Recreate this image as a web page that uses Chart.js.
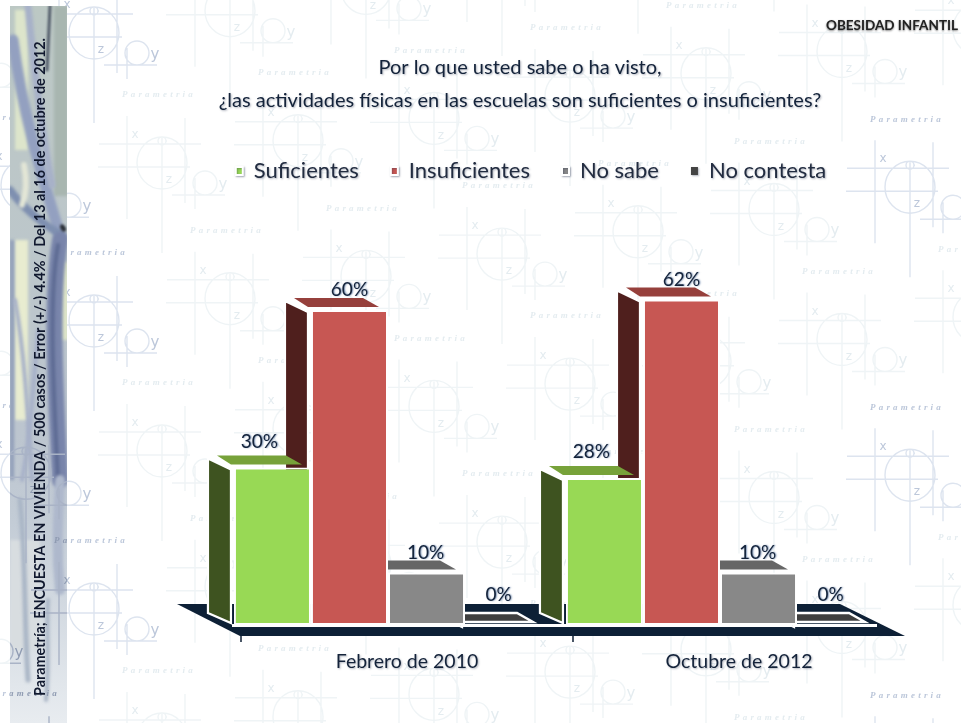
<!DOCTYPE html>
<html><head><meta charset="utf-8">
<style>html,body{margin:0;padding:0;background:#fff}canvas{display:block;filter:blur(0.45px)}</style>
<script src="https://cdn.jsdelivr.net/npm/chart.js@4"></script>
</head><body><canvas id="c" width="961" height="723"></canvas>
<script>
const categories = ['Febrero de 2010', 'Octubre de 2012'];
const suficientes = [30, 28];
const insuficientes = [60, 62];
const noSabe = [10, 10];
const noContesta = [0, 0];
const seriesNames = ['Suficientes', 'Insuficientes', 'No sabe', 'No contesta'];
const titleLines = ['Por lo que usted sabe o ha visto,', '¿las actividades físicas en las escuelas son suficientes o insuficientes?'];
const cornerLabel = 'OBESIDAD INFANTIL';
const sideNote = 'Parametría; ENCUESTA EN VIVIENDA / 500 casos / Error (+/-) 4.4% / Del 13 al 16 de octubre de 2012.';
const watermarkWord = 'Parametria';

const FONT = 'Lato, Carlito, "Open Sans", sans-serif';
const INK = '#14233a';
const frontColors = ['#98d955', '#c75753', '#888888', '#444444'];
const topColors = ['#77a23a', '#96403c', '#666666', '#3f3f3f'];
const sideColors = ['#3e5320', '#4f1f1d', '#444444', '#333333'];
const labelShift = [[-13, -26], [0, -20], [-1, -20], [-5, -30]];

function motif(ctx, cx, cy, level) {
  const col = ['#eff4f6', '#dde4ef', '#a9b3c6'][level];
  const ink = ['#e4ecf0', '#bcc7da', '#8f9bb2'][level];
  ctx.save();
  ctx.strokeStyle = col; ctx.lineWidth = 1.4;
  const segs = [[-63,-19,39,-19],[-64,4,28,4],[-35,-47,-35,56],[0,-25,0,90],[23,-45,23,40],[10,32,63,32],[33,15,33,46]];
  ctx.beginPath();
  segs.forEach(s => { ctx.moveTo(cx+s[0], cy+s[1]); ctx.lineTo(cx+s[2], cy+s[3]); });
  ctx.moveTo(cx+25, cy); ctx.ellipse(cx, cy, 25, 26, 0, 0, Math.PI*2);
  ctx.moveTo(cx+55, cy+20); ctx.arc(cx+43, cy+20, 12, 0, Math.PI*2);
  ctx.moveTo(cx+5, cy-22); ctx.arc(cx, cy-22, 4, 0, Math.PI*2);
  ctx.stroke();
  ctx.fillStyle = ink;
  ctx.font = '12px "DejaVu Sans"';
  ctx.textAlign = 'center'; ctx.textBaseline = 'middle';
  ctx.fillText('x', cx-27, cy-28);
  ctx.fillText('z', cx+7, cy+17);
  ctx.font = '15px "DejaVu Sans"';
  ctx.fillText('y', cx+61, cy+22);
  ctx.font = 'italic bold 9px "Liberation Serif"';
  ctx.letterSpacing = '3.2px';
  ctx.fillText(watermarkWord, cx-3, cy-68);
  ctx.letterSpacing = '0px';
  ctx.restore();
}

function motifY(k, r) {
  const base = (((k % 2) + 2) % 2 === 0 ? 33 - 11.15 * k : 163 - 11.15 * (k - 1));
  return ((base % 288) + 288) % 288 + r * 288;
}

function strip(ctx) {
  ctx.save();
  ctx.beginPath(); ctx.rect(10, 6, 57, 717); ctx.clip();
  let g = ctx.createLinearGradient(0, 6, 0, 723);
  g.addColorStop(0, '#bcc8c4'); g.addColorStop(.6, '#bcc5cf'); g.addColorStop(.72, '#c3ccd6'); g.addColorStop(1, '#e8ecf0');
  ctx.fillStyle = g; ctx.fillRect(10, 6, 57, 717);
  ctx.filter = 'blur(1.8px)';
  const blocks = [
    ['#dde5cb', 15, 10, 13, 140], ['#e8ecd0', 15, 240, 13, 180], ['#dfe6c8', 60, 262, 8, 78],
    ['#a8b6b0', 54, 6, 14, 190], ['#8f9db8', 10, 240, 4, 240], ['#d8dde0', 10, 540, 30, 110]
  ];
  blocks.forEach(b => { ctx.fillStyle = b[0]; ctx.fillRect(b[1], b[2], b[3], b[4]); });
  const branches = [
    ['#93a0c0', 11, [[13,40],[22,110],[40,170],[60,235]]],
    ['#a7b1c8', 7, [[28,6],[34,70],[40,120],[52,185]]],
    ['#7e8fb0', 8, [[10,190],[26,212],[45,224],[62,236]]],
    ['#e3e6d6', 6, [[24,165],[27,180],[26,195],[22,205]]],
    ['#7985ab', 16, [[60,240],[50,300],[56,400],[60,480]]],
    ['#5c6a92', 4, [[58,245],[48,300],[54,400],[58,480]]],
    ['#a6b0c8', 4, [[15,300],[24,350],[27,400],[32,480]]],
    ['#a6b0c8', 4, [[38,330],[33,390],[30,440],[22,480]]],
    ['#aeb8cc', 10, [[60,480],[58,520],[56,550],[60,590]]],
    ['#aab6c6', 5, [[20,500],[26,560],[24,620],[28,680]]],
    ['#aab6c6', 4, [[48,600],[46,640],[50,660],[46,700]]]
  ];
  ctx.lineCap = 'round';
  branches.forEach(b => {
    ctx.strokeStyle = b[0]; ctx.lineWidth = b[1];
    ctx.beginPath(); ctx.moveTo(b[2][0][0], b[2][0][1]);
    ctx.bezierCurveTo(b[2][1][0], b[2][1][1], b[2][2][0], b[2][2][1], b[2][3][0], b[2][3][1]);
    ctx.stroke();
  });
  ctx.filter = 'blur(1px)';
  ctx.strokeStyle = '#525c6a'; ctx.lineWidth = 3;
  ctx.beginPath(); ctx.moveTo(50, 6); ctx.lineTo(47, 70); ctx.stroke();
  ctx.fillStyle = '#2b3038';
  ctx.beginPath(); ctx.ellipse(63, 228, 2.5, 4, -.5, 0, Math.PI*2); ctx.fill();
  ctx.filter = 'none';
  ctx.restore();
}

function poly(ctx, pts, fill, stroke, lw) {
  ctx.beginPath();
  pts.forEach((p, i) => i ? ctx.lineTo(p[0], p[1]) : ctx.moveTo(p[0], p[1]));
  ctx.closePath();
  if (fill) { ctx.fillStyle = fill; ctx.fill(); }
  if (stroke) { ctx.strokeStyle = stroke; ctx.lineWidth = lw; ctx.stroke(); }
}

function barBox(el) {
  const half = el.width / 2;
  return { l: el.x - half + 2, r: el.x + half - 2, t: el.y + 2, b: el.base - 2 };
}

const scene = {
  id: 'scene',
  afterLayout(chart) {
    const lg = chart.legend, w = lg.width, h = lg.height;
    lg.left = 531 - w / 2; lg.right = lg.left + w; lg.top = 128; lg.bottom = 128 + h;
    const t = chart.titleBlock;
    t.left = 40; t.right = 1000; t.top = 51; t.bottom = 117;
  },
  beforeDraw(chart) {
    const ctx = chart.ctx;
    ctx.save();
    ctx.fillStyle = '#fff'; ctx.fillRect(0, 0, 961, 723);
    for (let k = -2; k <= 13; k++) {
      for (let r = -1; r < 4; r++) {
        motif(ctx, 94 + k * 68, motifY(k, r), (k === -1 || k === 0 || k === 12) ? 1 : 0);
      }
    }
    strip(ctx);
    ctx.save();
    ctx.beginPath(); ctx.rect(10, 445, 57, 278); ctx.clip();
    [-2, -1, 0].forEach(k => {
      for (let r = 0; r < 4; r++) motif(ctx, 94 + k * 68, motifY(k, r), 2);
    });
    ctx.restore();
    ctx.translate(40, 696);
    ctx.rotate(-Math.PI / 2);
    ctx.fillStyle = '#10182e';
    ctx.font = 'bold 14.5px ' + FONT;
    ctx.textAlign = 'left'; ctx.textBaseline = 'middle';
    ctx.fillText(sideNote, 0, 0, 658);
    ctx.restore();

    ctx.save();
    ctx.fillStyle = '#222';
    ctx.font = 'bold 13.5px ' + FONT;
    ctx.textAlign = 'right'; ctx.textBaseline = 'middle';
    ctx.shadowColor = 'rgba(0,0,0,.5)'; ctx.shadowBlur = 2; ctx.shadowOffsetY = 1;
    ctx.fillText(cornerLabel, 958, 26);
    ctx.restore();

    ctx.shadowColor = 'rgba(30,40,70,.35)'; ctx.shadowBlur = 2; ctx.shadowOffsetX = 1; ctx.shadowOffsetY = 1;
  },
  beforeDatasetsDraw(chart) {
    const ctx = chart.ctx, a = chart.chartArea;
    ctx.shadowColor = 'transparent'; ctx.shadowBlur = 0; ctx.shadowOffsetX = 0; ctx.shadowOffsetY = 0;
    ctx.save();
    poly(ctx, [[a.left-45,a.bottom-21],[a.right-46,a.bottom-21],[a.right+19,a.bottom+11],[a.left+18,a.bottom+11]], '#0d2036');
    ctx.fillStyle = '#fff';
    ctx.fillRect(a.left + 10, a.bottom - 1, a.right - a.left - 19, 3);
    ctx.lineJoin = 'miter';
    for (let d = chart.data.datasets.length - 1; d >= 0; d--) {
      chart.getDatasetMeta(d).data.forEach(el => {
        const q = barBox(el);
        poly(ctx, [[q.l-5,q.t],[q.l-28,q.t-11],[q.l-28,q.b-10],[q.l-5,q.b]], sideColors[d], '#fff', 2.2);
        const pad = q.t >= q.b;
        poly(ctx, [[q.l-5,q.t-5],[q.r-7,q.t-5],[q.r-23,q.t-14],[q.l-19,q.t-14]], topColors[d], pad ? '#fff' : null, 2.4);
      });
    }
    ctx.restore();
  },
  afterDatasetsDraw(chart) {
    const ctx = chart.ctx, a = chart.chartArea, xs = chart.scales.x;
    ctx.save();
    ctx.strokeStyle = '#1d2c40'; ctx.lineWidth = 1.6;
    categories.forEach((c, i) => {
      const x = xs.getPixelForValue(i) - 147;
      ctx.beginPath(); ctx.moveTo(x, a.bottom + 11); ctx.lineTo(x, a.bottom + 17); ctx.stroke();
    });
    ctx.font = '19px ' + FONT;
    ctx.textAlign = 'center'; ctx.textBaseline = 'middle';
    ctx.fillStyle = INK;
    ctx.shadowColor = 'rgba(20,60,120,.55)'; ctx.shadowBlur = 1.5; ctx.shadowOffsetX = 1;
    chart.data.datasets.forEach((ds, d) => {
      chart.getDatasetMeta(d).data.forEach((el, i) => {
        ctx.fillText(ds.data[i] + '%', el.x + labelShift[d][0], el.y + labelShift[d][1]);
      });
    });
    ctx.restore();
  }
};

const seriesValues = [suficientes, insuficientes, noSabe, noContesta];
new Chart(document.getElementById('c'), {
  type: 'bar',
  plugins: [scene],
  data: {
    labels: categories,
    datasets: seriesNames.map((name, i) => ({
      label: name,
      data: seriesValues[i],
      backgroundColor: frontColors[i],
      borderColor: '#ffffff',
      borderWidth: c => c.raw === 0 ? 0 : 2,
      borderSkipped: false,
      barPercentage: 1,
      categoryPercentage: 0.928
    }))
  },
  options: {
    responsive: false,
    animation: false,
    events: [],
    layout: { padding: { left: 222, right: 75, top: 75, bottom: 0 } },
    scales: {
      y: { display: false, min: 0, max: 80 },
      x: {
        grid: { display: false, drawTicks: false },
        border: { display: false },
        afterFit(s) { s.height = 98; },
        ticks: { padding: 25, labelOffset: 19, color: INK, font: { family: FONT, size: 19.5 } }
      }
    },
    plugins: {
      tooltip: { enabled: false },
      title: {
        display: true,
        text: titleLines,
        color: INK,
        padding: 0,
        font: { family: FONT, size: 20, weight: 'normal', lineHeight: 33 / 20 }
      },
      legend: {
        display: true,
        position: 'top',
        labels: { boxWidth: 7, boxHeight: 8, padding: 32, color: '#222c40', font: { family: FONT, size: 22 } }
      }
    }
  }
});
</script></body></html>
